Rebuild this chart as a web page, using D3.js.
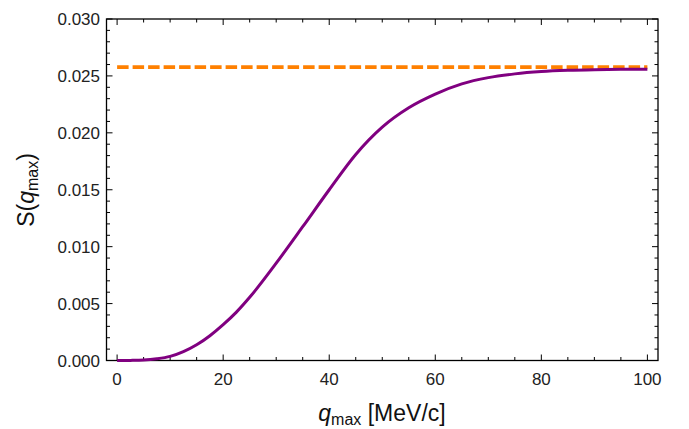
<!DOCTYPE html>
<html>
<head>
<meta charset="utf-8">
<script src="https://cdn.jsdelivr.net/npm/d3@7"></script>
<style>
  html, body { margin: 0; padding: 0; background: #fff; }
  svg { display: block; font-family: "Liberation Sans", Arial, Helvetica, sans-serif; }
</style>
</head>
<body>
<svg id="chart" width="689" height="429"></svg>
<script>
// Cumulative sum S(q_max) versus cutoff momentum q_max
const qMax = [0, 2.5, 5, 7.5, 10, 12.5, 15, 17.5, 20, 22.5, 25, 30, 35, 40, 45, 50, 55, 60, 65, 70, 75, 80, 85, 90, 95, 100];
const sValues = [0, 0.00001, 0.00004, 0.00015, 0.00036, 0.00078, 0.00138, 0.00218, 0.00315, 0.00425,
                 0.00555, 0.00855, 0.01175, 0.0150, 0.0181, 0.0205, 0.0222, 0.0234, 0.0243,
                 0.02485, 0.02518, 0.02538, 0.02549, 0.02555, 0.02558, 0.02559];
// Asymptotic (q_max -> infinity) value
const sLimit = 0.02577;
const limitRange = [0, 100];

const xTicksMajor = [0, 20, 40, 60, 80, 100];
const xTicksMinor = d3.range(0, 101, 5);
const yTicksMajor = [0, 0.005, 0.010, 0.015, 0.020, 0.025, 0.030];
const yTicksMinor = d3.range(0, 31, 1).map(d => d / 1000);

const svg = d3.select("#chart");
const frame = { left: 106.5, right: 658, top: 19, bottom: 360.5 };

const x = d3.scaleLinear().domain([-2, 102]).range([frame.left, frame.right]);
const y = d3.scaleLinear().domain([0, 0.030]).range([frame.bottom, frame.top]);

const majorLen = 6, minorLen = 3.5;

// Frame ticks (inward) on all four sides
const ticks = svg.append("g").attr("stroke", "#000").attr("stroke-width", 1);
xTicksMinor.forEach(v => {
  const len = xTicksMajor.includes(v) ? majorLen : minorLen;
  const px = x(v);
  ticks.append("line").attr("x1", px).attr("x2", px).attr("y1", frame.bottom).attr("y2", frame.bottom - len);
  ticks.append("line").attr("x1", px).attr("x2", px).attr("y1", frame.top).attr("y2", frame.top + len);
});
yTicksMinor.forEach(v => {
  const isMajor = yTicksMajor.some(m => Math.abs(m - v) < 1e-9);
  const len = isMajor ? majorLen : minorLen;
  const py = y(v);
  ticks.append("line").attr("x1", frame.left).attr("x2", frame.left + len).attr("y1", py).attr("y2", py);
  ticks.append("line").attr("x1", frame.right).attr("x2", frame.right - len).attr("y1", py).attr("y2", py);
});

// Frame
svg.append("rect")
  .attr("x", frame.left).attr("y", frame.top)
  .attr("width", frame.right - frame.left).attr("height", frame.bottom - frame.top)
  .attr("fill", "none").attr("stroke", "#000").attr("stroke-width", 1.3);

// Tick labels
svg.append("g").selectAll("text").data(xTicksMajor).join("text")
  .attr("x", d => x(d)).attr("y", 384.5)
  .attr("text-anchor", "middle")
  .attr("font-size", 17).attr("fill", "#222")
  .text(d => d);

svg.append("g").selectAll("text").data(yTicksMajor).join("text")
  .attr("x", 100).attr("y", d => y(d))
  .attr("dy", "0.36em")
  .attr("text-anchor", "end")
  .attr("font-size", 17).attr("fill", "#222")
  .text(d => d3.format(".3f")(d));

// Asymptote
const line = d3.line().x(d => x(d[0])).y(d => y(d[1]));
svg.append("path")
  .datum(limitRange.map(q => [q, sLimit]))
  .attr("d", line)
  .attr("fill", "none")
  .attr("stroke", "#ff8000")
  .attr("stroke-width", 3.6)
  .attr("stroke-dasharray", "11.5,4");

// S(q_max) curve
const curve = d3.line().x(d => x(d[0])).y(d => y(d[1])).curve(d3.curveMonotoneX);
svg.append("path")
  .datum(qMax.map((q, i) => [q, sValues[i]]))
  .attr("d", curve)
  .attr("fill", "none")
  .attr("stroke", "#800080")
  .attr("stroke-width", 3);

// Axis titles
const xt = svg.append("text")
  .attr("x", 382).attr("y", 421)
  .attr("text-anchor", "middle")
  .attr("font-size", 23).attr("fill", "#111");
xt.append("tspan").attr("font-style", "italic").text("q");
xt.append("tspan").attr("font-size", 16).attr("dy", 4).text("max");
xt.append("tspan").attr("dy", -4).text(" [MeV/c]");

const yt = svg.append("text")
  .attr("transform", "translate(34,190) rotate(-90)")
  .attr("text-anchor", "middle")
  .attr("font-size", 23).attr("fill", "#111");
yt.append("tspan").text("S(");
yt.append("tspan").attr("font-style", "italic").text("q");
yt.append("tspan").attr("font-size", 16).attr("dy", 4).text("max");
yt.append("tspan").attr("dy", -4).text(")");
</script>
</body>
</html>
